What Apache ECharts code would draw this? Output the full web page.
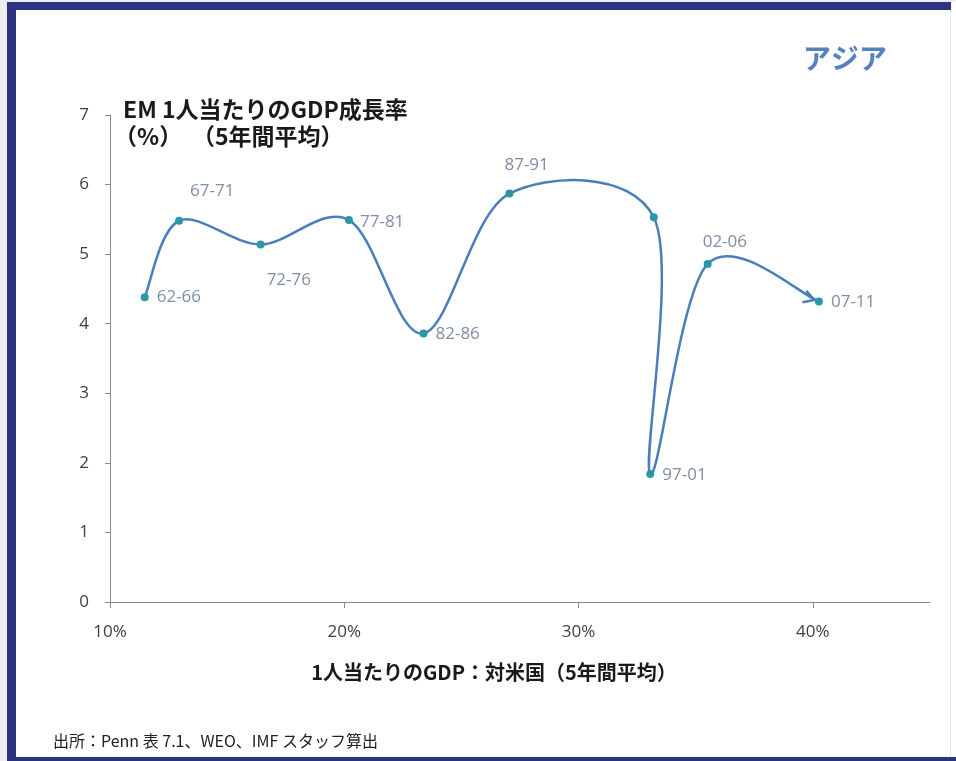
<!DOCTYPE html>
<html>
<head>
<meta charset="utf-8">
<script src="https://cdn.jsdelivr.net/npm/echarts@6/dist/echarts.min.js"></script>
<style>
  html, body { margin: 0; padding: 0; background: #ffffff; }
  #chart { width: 956px; height: 761px; }
</style>
</head>
<body>
<div id="chart"></div>
<script>
// Five-year periods, per-capita GDP relative to the US (%), and per-capita GDP growth (%)
const periods = ['62-66', '67-71', '72-76', '77-81', '82-86', '87-91', '92-96', '97-01', '02-06', '07-11'];
const gdpShareUS = [11.48, 12.95, 16.43, 20.20, 23.38, 27.05, 33.21, 33.06, 35.51, 40.26];
const growthRate = [4.38, 5.48, 5.14, 5.49, 3.86, 5.87, 5.53, 1.84, 4.86, 4.32];
const xTicks = [10, 20, 30, 40];
const yTicks = [0, 1, 2, 3, 4, 5, 6, 7];

// Label placement per period (null = no label)
const labelOffsets = [[3, 0], [2, -30], [-3, 36], [2, 2], [3, 1], [-14, -28], null, [3, 1], [-14, -22], [3, 1]];

const NAVY = '#2c3380';
const LINE = '#4a7ebb';
const DOT = '#2a96a6';
const LABEL = '#7d8ea3';
const CJK = '"Noto Sans CJK JP", "Noto Sans", sans-serif';
const LATIN = '"Open Sans", "Noto Sans", sans-serif';

const chart = echarts.init(document.getElementById('chart'), null, { renderer: 'canvas' });

const n = periods.length;
const points = gdpShareUS.map((x, i) => [x, growthRate[i]]);

// Pixel position of point k (clamped to the ends, so end tangents follow the last chord)
function pixelAt(api, k) {
  const j = Math.max(0, Math.min(n - 1, k));
  return api.coord([gdpShareUS[j], growthRate[j]]);
}

// Cardinal-spline segment from point i to i+1 as a cubic Bezier
function segment(api, i) {
  const p0 = pixelAt(api, i - 1), p1 = pixelAt(api, i), p2 = pixelAt(api, i + 1), p3 = pixelAt(api, i + 2);
  const t = 1 / 6;
  return {
    x1: p1[0], y1: p1[1], x2: p2[0], y2: p2[1],
    cpx1: p1[0] + (p2[0] - p0[0]) * t, cpy1: p1[1] + (p2[1] - p0[1]) * t,
    cpx2: p2[0] - (p3[0] - p1[0]) * t, cpy2: p2[1] - (p3[1] - p1[1]) * t
  };
}

function renderCurve(params, api) {
  const i = params.dataIndex;
  if (i < n - 1) {
    return {
      type: 'bezierCurve',
      shape: segment(api, i),
      style: { stroke: LINE, lineWidth: 2.5, fill: null },
      silent: true
    };
  }
  // open arrowhead at the end, aligned with the incoming tangent
  const s = segment(api, n - 2);
  const dx = s.x2 - s.cpx2, dy = s.y2 - s.cpy2;
  const len = Math.hypot(dx, dy) || 1;
  const ux = dx / len, uy = dy / len;
  const tipX = s.x2 - ux * 5, tipY = s.y2 - uy * 5;
  const L = 12, a = Math.PI / 6;
  const ca = Math.cos(a), sa = Math.sin(a);
  const b1 = [tipX - L * (ux * ca - uy * sa), tipY - L * (uy * ca + ux * sa)];
  const b2 = [tipX - L * (ux * ca + uy * sa), tipY - L * (uy * ca - ux * sa)];
  return {
    type: 'polyline',
    shape: { points: [b1, [tipX, tipY], b2] },
    style: { stroke: LINE, lineWidth: 2.5, fill: null, lineJoin: 'miter' },
    silent: true
  };
}

const markerData = periods.map((p, i) => ({
  name: p,
  value: points[i],
  label: {
    show: labelOffsets[i] !== null,
    offset: labelOffsets[i] || [0, 0]
  }
}));

chart.setOption({
  animation: false,
  backgroundColor: '#ffffff',
  grid: { left: 110, right: 26, top: 115, bottom: 159 },
  xAxis: {
    type: 'value',
    min: xTicks[0],
    max: 45,
    interval: 10,
    splitLine: { show: false },
    axisLine: { show: true, lineStyle: { color: '#8a8a8a', width: 1 } },
    axisTick: { show: true, customValues: xTicks, length: 6, lineStyle: { color: '#8a8a8a' } },
    axisLabel: {
      customValues: xTicks,
      formatter: v => v + '%',
      margin: 22,
      color: '#404040',
      fontSize: 17,
      fontFamily: LATIN
    }
  },
  yAxis: {
    type: 'value',
    min: yTicks[0],
    max: yTicks[yTicks.length - 1],
    interval: 1,
    splitLine: { show: false },
    axisLine: { show: true, lineStyle: { color: '#8a8a8a', width: 1 } },
    axisTick: { show: true, length: 5, lineStyle: { color: '#8a8a8a' } },
    axisLabel: {
      margin: 21,
      color: '#404040',
      fontSize: 17,
      fontFamily: LATIN
    }
  },
  series: [
    {
      type: 'custom',
      data: points,
      renderItem: renderCurve,
      clip: false,
      silent: true,
      z: 2
    },
    {
      type: 'scatter',
      data: markerData,
      symbol: 'circle',
      symbolSize: 8,
      itemStyle: { color: DOT, opacity: 1 },
      label: {
        position: 'right',
        distance: 5,
        formatter: '{b}',
        color: LABEL,
        fontSize: 17,
        fontFamily: LATIN
      },
      z: 3
    }
  ],
  graphic: [
    // frame
    { type: 'rect', shape: { x: 0, y: 0, width: 7, height: 761 }, style: { fill: '#eceef2' } },
    { type: 'rect', shape: { x: 0, y: 0, width: 956, height: 2 }, style: { fill: '#eceef2' } },
    { type: 'rect', shape: { x: 7, y: 2, width: 9, height: 759 }, style: { fill: NAVY } },
    { type: 'rect', shape: { x: 7, y: 2, width: 944, height: 8 }, style: { fill: NAVY } },
    { type: 'rect', shape: { x: 7, y: 757, width: 949, height: 4 }, style: { fill: NAVY } },
    { type: 'rect', shape: { x: 950, y: 10, width: 1, height: 747 }, style: { fill: '#e4e8ee' } },
    // region title
    {
      type: 'text', left: 803, top: 44,
      style: { text: 'アジア', fill: '#5283c0', font: 'bold 28px ' + CJK }
    },
    // y-axis title
    {
      type: 'text', left: 123, top: 98,
      style: { text: 'EM 1人当たりのGDP成長率', fill: '#1a1a1a', font: 'bold 23px ' + CJK }
    },
    {
      type: 'text', left: 114, top: 125,
      style: { text: '（%）', fill: '#1a1a1a', font: 'bold 23px ' + CJK }
    },
    {
      type: 'text', left: 192, top: 125,
      style: { text: '（5年間平均）', fill: '#1a1a1a', font: 'bold 23px ' + CJK }
    },
    // x-axis title
    {
      type: 'text', x: 494, y: 672,
      style: {
        text: '1人当たりのGDP：対米国（5年間平均）',
        fill: '#1a1a1a', font: 'bold 20px ' + CJK, align: 'center', verticalAlign: 'middle'
      }
    },
    // source note
    {
      type: 'text', left: 53, top: 733,
      style: {
        text: '出所：Penn 表 7.1、WEO、IMF スタッフ算出',
        fill: '#222222', font: '16px ' + CJK
      }
    }
  ]
});
</script>
</body>
</html>
